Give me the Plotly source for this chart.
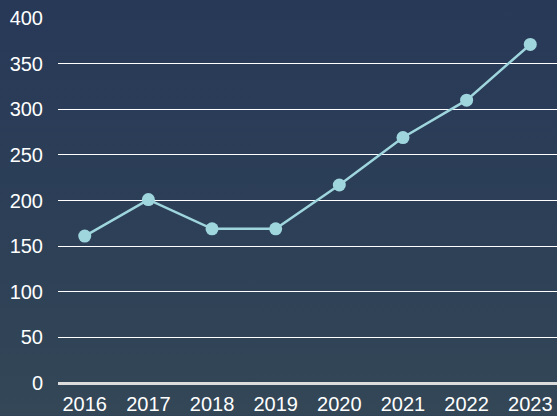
import plotly.graph_objects as go

# ---------- DADOS ----------
anos = ['2016', '2017', '2018', '2019', '2020', '2021', '2022', '2023']
valores = [161, 201, 169, 169, 217, 269, 310, 371]
y_ticks = [0, 50, 100, 150, 200, 250, 300, 350, 400]

# fundo em gradiente (svg inline, sem rede)
bg_svg = (
    "data:image/svg+xml;utf8,"
    "<svg xmlns='http://www.w3.org/2000/svg' width='557' height='416' preserveAspectRatio='none'>"
    "<defs><linearGradient id='g' x1='0' y1='0' x2='0' y2='1'>"
    "<stop offset='0' stop-color='%23283958'/>"
    "<stop offset='0.5' stop-color='%232c3f57'/>"
    "<stop offset='1' stop-color='%23334757'/>"
    "</linearGradient></defs>"
    "<rect width='557' height='416' fill='url(%23g)'/></svg>"
)

fig = go.Figure()
fig.add_trace(go.Scatter(
    x=anos,
    y=valores,
    mode='lines+markers',
    line=dict(color='#9fd6de', width=2.5),
    marker=dict(size=13, color='#9fd6de'),
    hoverinfo='skip'
))

fig.add_layout_image(dict(
    source=bg_svg,
    xref='paper', yref='paper',
    x=-0.12, y=1.05, sizex=1.12, sizey=1.14,
    xanchor='left', yanchor='top',
    sizing='stretch', layer='below'
))

fig.update_layout(
    width=557,
    height=416,
    showlegend=False,
    margin=dict(l=58, r=0, t=18, b=33),
    paper_bgcolor='#2c3f57',
    plot_bgcolor='rgba(0,0,0,0)',
    font=dict(family='Liberation Sans, Arial', color='white', size=20),
    xaxis=dict(
        type='category',
        range=[-0.42, 7.42],
        showgrid=False,
        zeroline=False,
        showline=False,
        ticks='',
        ticklabelstandoff=7,
        tickfont=dict(color='white', size=20),
    ),
    yaxis=dict(
        range=[0, 400],
        tickvals=y_ticks,
        gridcolor='white',
        gridwidth=1,
        zeroline=True,
        zerolinecolor='#dcdcdc',
        zerolinewidth=3,
        ticks='',
        ticklabelstandoff=14,
        tickfont=dict(color='white', size=20),
    ),
)

fig.write_html(
    "out.html",
    config={'displayModeBar': False},
    post_script="document.body.style.margin='0';"
)
